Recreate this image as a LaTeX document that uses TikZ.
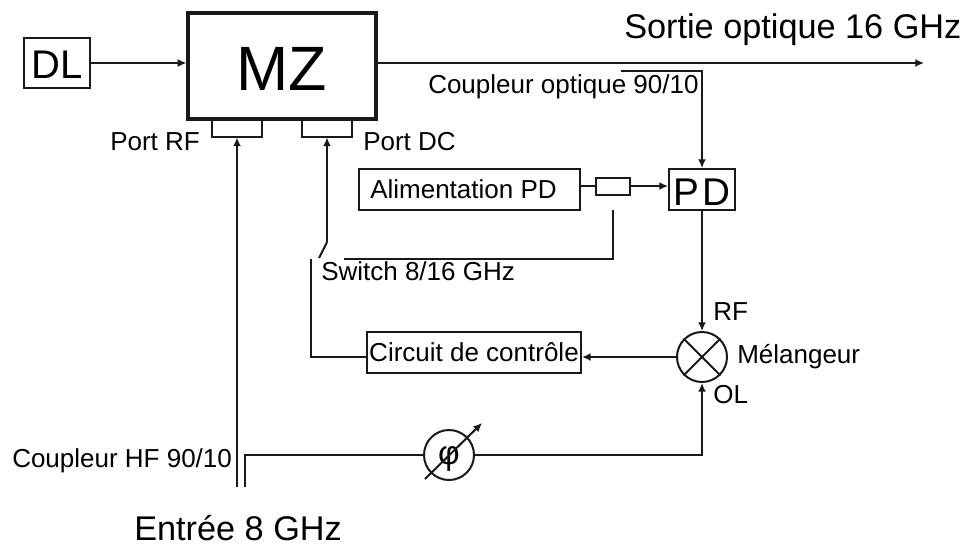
\documentclass[tikz,border=0pt]{standalone}
\usepackage{fontspec}
\setmainfont{Liberation Sans}
\usetikzlibrary{arrows.meta}
\tikzset{
  x=0.75pt,y=-0.75pt,
  wire/.style={line width=1.5pt,-,draw=black!90},
  arrowwire/.style={wire,-{Latex[length=6.5pt,width=6pt]}},
  box/.style={draw=black!90,line width=1.5pt,fill=white,inner sep=0pt,text=black},
  thickbox/.style={box,line width=2.4pt},
  round/.style={box,circle,minimum size=37.5pt},
  lab/.style={anchor=base west,inner sep=0pt,text=black,font=\fontsize{19.5pt}{22pt}\selectfont},
  biglab/.style={lab,font=\fontsize{25.7pt}{28pt}\selectfont},
}
\begin{document}
\begin{tikzpicture}
\useasboundingbox (0,0) rectangle (968,551);
\fill[white] (0,0) rectangle (968,551);
% boxes
\node[box,minimum width=49.5pt,minimum height=37.5pt,text height=22.5pt,text depth=0pt,font=\fontsize{30pt}{34pt}\selectfont] (dl) at (57,63) {DL};
\node[thickbox,minimum width=141pt,minimum height=79.5pt,text height=36.75pt,text depth=0pt,font=\fontsize{47pt}{50pt}\selectfont] (mz) at (282,66) {MZ};
\node[box,minimum width=37pt,minimum height=12.75pt] (prf) at (237,128) {};
\node[box,minimum width=37.5pt,minimum height=12.75pt] (pdc) at (327,128) {};
\node[box,minimum width=165.75pt,minimum height=30.75pt,text height=13.5pt,text depth=0pt,font=\fontsize{19.5pt}{22pt}\selectfont] (alim) at (469.5,189.5) {Alimentation PD\kern9pt};
\node[box,minimum width=25.5pt,minimum height=12.75pt] (res) at (613,186) {};
\node[box,minimum width=49.5pt,minimum height=30.75pt,text height=23.25pt,text depth=0pt,font=\fontsize{29pt}{32pt}\selectfont] (pd) at (702,189.5) {P\kern3pt D};
\node[box,minimum width=160.5pt,minimum height=30.75pt,text height=14.25pt,text depth=0pt,font=\fontsize{19.5pt}{22pt}\selectfont] (cc) at (474,352) {Circuit de contrôle};
\node[round] (mix) at (702,357) {};
\node[round,text height=14pt,text depth=0pt,font=\fontsize{25pt}{28pt}\selectfont] (phi) at (449,455) {φ};
% mixer cross
\draw[wire] (mix.45) -- (mix.225);
\draw[wire] (mix.135) -- (mix.315);
% free ends
\coordinate (outend) at (924,63);
\coordinate (coupstart) at (621,71);
\coordinate (swtop) at (327,242);
\coordinate (swblade) at (319,258);
\coordinate (fbstart) at (344,259);
\coordinate (fbup) at (613,210);
\coordinate (swlow) at (311,259);
\coordinate (hfa) at (237,487);
\coordinate (hfb) at (245,487);
% connectors
\draw[arrowwire] (dl.east) -- (mz.west |- dl.east);
\draw[arrowwire] (mz.east |- outend) -- (outend);
\draw[arrowwire] (coupstart) -| (pd.north);
\draw[wire] (alim.east |- res.west) -- (res.west);
\draw[arrowwire] (res.east) -- (pd.west |- res.east);
\draw[arrowwire] (pd.south) -- (mix.north);
\draw[arrowwire] (mix.west) -- (cc.east |- mix.west);
\draw[wire] (cc.west |- mix.west) -| (swlow);
\draw[arrowwire] (swtop) -- (pdc.south);
\draw[wire] (swtop) -- (swblade);
\draw[wire] (fbstart) -| (fbup);
\draw[arrowwire] (hfa) -- (prf.south);
\draw[wire] (hfb) |- (phi.west);
\draw[arrowwire] (phi.east) -| (mix.south);
\coordinate (phia) at (425,479);
\coordinate (phib) at (482,423);
\draw[arrowwire] (phia) -- (phib);
% labels
\node[biglab] (sortie) at (624,38) {Sortie optique 16 GHz};
\node[lab] (coupopt) at (428,93) {Coupleur optique 90/10};
\node[lab] (portrf) at (110,150) {Port RF};
\node[lab] (portdc) at (363,150) {Port DC};
\node[lab] (switch) at (321,280) {Switch 8/16 GHz};
\node[lab] (rf) at (713,320) {RF};
\node[lab] (melang) at (737,363) {Mélangeur};
\node[lab] (ol) at (713,403) {OL};
\node[lab] (couphf) at (12,467) {Coupleur HF 90/10};
\node[biglab] (entree) at (134,540) {Entrée 8 GHz};
\end{tikzpicture}
\end{document}
